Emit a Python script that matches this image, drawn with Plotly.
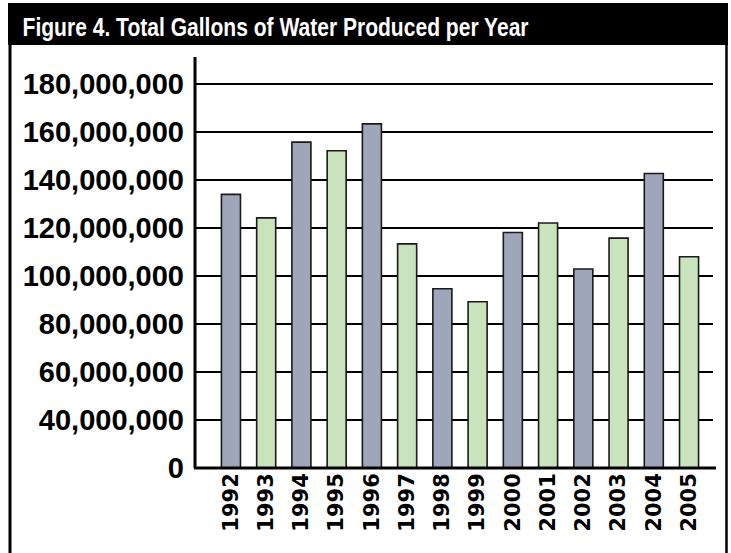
import plotly.graph_objects as go

# ---- data ----
years = ["1992", "1993", "1994", "1995", "1996", "1997", "1998",
         "1999", "2000", "2001", "2002", "2003", "2004", "2005"]
gallons = [134.0e6, 124.2e6, 155.8e6, 152.2e6, 163.4e6, 113.4e6, 94.7e6,
           89.3e6, 118.1e6, 122.1e6, 102.9e6, 115.8e6, 142.7e6, 108.0e6]
bar_colors = ["#A0A6BA", "#C9E4BD"] * 7
y_tick_values = [20e6, 40e6, 60e6, 80e6, 100e6, 120e6, 140e6, 160e6, 180e6]
y_tick_labels = ["0", "40,000,000", "60,000,000", "80,000,000", "100,000,000",
                 "120,000,000", "140,000,000", "160,000,000", "180,000,000"]
title_text = "Figure 4. Total Gallons of Water Produced per Year"

# ---- layout geometry (pixels) ----
W, H = 731, 553
PL, PR, PT, PB = 195, 713, 57, 468  # plot area box
TITLE_L, TITLE_R = 22, 528


def px(x):
    return (x - PL) / (PR - PL)


def py(y):
    return (PB - y) / (PB - PT)


fig = go.Figure()
fig.add_trace(go.Bar(
    x=years, y=gallons,
    marker=dict(color=bar_colors, line=dict(color="#1a1a1a", width=1.6)),
    width=0.54,
    hoverinfo="x+y",
))

shapes = [
    # black title band
    dict(type="rect", xref="paper", yref="paper",
         x0=px(8), x1=px(728), y0=py(45), y1=py(3),
         fillcolor="black", line=dict(width=0), layer="above"),
    # left frame line
    dict(type="line", xref="paper", yref="paper",
         x0=px(10), x1=px(10), y0=py(45), y1=py(560),
         line=dict(color="black", width=3)),
    # right frame line
    dict(type="line", xref="paper", yref="paper",
         x0=px(726.5), x1=px(726.5), y0=py(45), y1=py(560),
         line=dict(color="black", width=2.5)),
    # y axis line
    dict(type="line", xref="paper", yref="paper",
         x0=0, x1=0, y0=0, y1=1,
         line=dict(color="black", width=3), layer="above"),
    # x axis line
    dict(type="line", xref="paper", yref="paper",
         x0=px(194), x1=px(716), y0=0, y1=0,
         line=dict(color="black", width=3), layer="above"),
]

fig.update_layout(
    width=W, height=H,
    margin=dict(l=PL, r=W - PR, t=PT, b=H - PB, pad=0),
    paper_bgcolor="white", plot_bgcolor="white",
    showlegend=False,
    shapes=shapes,
    annotations=[dict(
        text=title_text, xref="paper", yref="paper",
        x=px((TITLE_L + TITLE_R) / 2), y=py(26.5), xanchor="center", yanchor="middle",
        showarrow=False,
        font=dict(family="Liberation Sans, Arial", size=25, color="white", weight="bold"),
    )],
    xaxis=dict(
        type="category", range=[-1.02, 13.68], showgrid=False,
        showline=False, zeroline=False, ticks="", tickangle=-90,
        tickfont=dict(family="DejaVu Sans", size=21, color="black", weight="bold"),
        automargin=False, fixedrange=True,
    ),
    yaxis=dict(
        range=[20e6, 20e6 + (PB - PT) / 48 * 20e6], tickmode="array",
        tickvals=y_tick_values, ticktext=y_tick_labels,
        showgrid=True, gridcolor="black", gridwidth=2,
        showline=False, zeroline=False, ticks="",
        ticklabelstandoff=10,
        tickfont=dict(family="Liberation Sans, Arial", size=29, color="black", weight="bold"),
        automargin=False, fixedrange=True,
    ),
)

post_js = (
    "document.body.style.margin='0px';"
    "document.querySelectorAll('.annotation-text').forEach(function(t){"
    "t.setAttribute('textLength','%d');"
    "t.setAttribute('lengthAdjust','spacingAndGlyphs');});" % (TITLE_R - TITLE_L)
)

fig.write_html("out.html", post_script=post_js,
               config={"displayModeBar": False, "staticPlot": True})
